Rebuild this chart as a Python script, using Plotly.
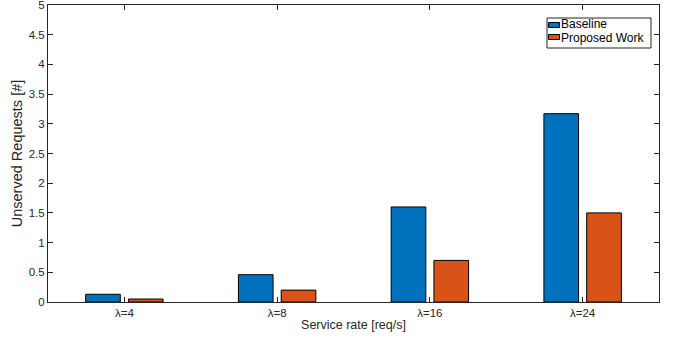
import plotly.graph_objects as go

categories = ["λ=4", "λ=8", "λ=16", "λ=24"]
positions = [1, 2, 3, 4]
baseline = [0.13, 0.46, 1.60, 3.17]
proposed = [0.05, 0.20, 0.70, 1.50]
series_names = ["Baseline", "Proposed Work"]
series_colors = ["#0072BD", "#D95319"]
y_ticks = [0, 0.5, 1, 1.5, 2, 2.5, 3, 3.5, 4, 4.5, 5]
y_ticktext = ["0", "0.5", "1", "1.5", "2", "2.5", "3", "3.5", "4", "4.5", "5"]

FONT = "Liberation Sans, Arial, Helvetica, sans-serif"
AXIS_COLOR = "#262626"

fig = go.Figure()
for name, vals, col in zip(series_names, [baseline, proposed], series_colors):
    fig.add_trace(go.Bar(x=positions, y=vals, name=name,
                         marker=dict(color=col, line=dict(color="#000000", width=1))))

# plot-area geometry (pixels) used for placing a compact MATLAB-style legend
W, H = 675, 338
ML, MR, MT, MB = 48, 16, 5, 36
PW, PH = W - ML - MR, H - MT - MB


def px(x):
    return (x - ML) / PW


def py(y):
    return (H - MB - y) / PH


shapes = [dict(type="rect", xref="paper", yref="paper",
               x0=px(547), x1=px(651), y0=py(48), y1=py(18),
               fillcolor="white", line=dict(color=AXIS_COLOR, width=1), layer="above")]
annotations = []
text_centers = [24.5, 38.0]
swatch_centers = [25.0, 37.0]
for name, col, tc, sc in zip(series_names, series_colors, text_centers, swatch_centers):
    shapes.append(dict(type="rect", xref="paper", yref="paper",
                       x0=px(548.5), x1=px(559.5), y0=py(sc + 2.5), y1=py(sc - 2.5),
                       fillcolor=col, line=dict(color="#000000", width=1), layer="above"))
    annotations.append(dict(xref="paper", yref="paper", x=px(560), y=py(tc),
                            xanchor="left", yanchor="middle", text=name, showarrow=False,
                            borderpad=0,
                            font=dict(family=FONT, size=12, color="#000000")))

fig.update_layout(
    width=W, height=H,
    margin=dict(l=ML, r=MR, t=MT, b=MB, autoexpand=False),
    paper_bgcolor="white", plot_bgcolor="white",
    barmode="group", bargap=0.44, bargroupgap=0.19,
    font=dict(family=FONT, size=11.5, color=AXIS_COLOR),
    showlegend=False,
    shapes=shapes, annotations=annotations,
)
fig.update_xaxes(
    range=[0.5, 4.5], tickmode="array", tickvals=positions, ticktext=categories,
    ticks="inside", ticklen=5, tickcolor=AXIS_COLOR, showline=True, linecolor=AXIS_COLOR,
    linewidth=1, mirror="ticks", showgrid=False, zeroline=False, automargin=False,
    title=dict(text="Service rate [req/s]", font=dict(size=12.5), standoff=2),
)
fig.update_yaxes(
    range=[0, 5], tickmode="array", tickvals=y_ticks, ticktext=y_ticktext,
    ticks="inside", ticklen=5, tickcolor=AXIS_COLOR, showline=True, linecolor=AXIS_COLOR,
    linewidth=1, mirror="ticks", showgrid=False, zeroline=False, automargin=False,
    ticklabeloverflow="allow",
    title=dict(text="Unserved Requests [#]", font=dict(size=14.5), standoff=2),
)

fig.write_html("out.html")
